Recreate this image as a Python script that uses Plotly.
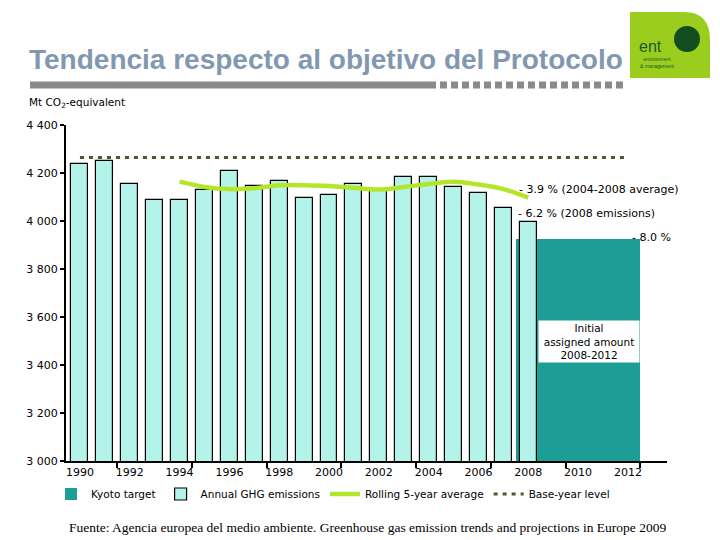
import plotly.graph_objects as go

# ---------------- data ----------------
years = list(range(1990, 2009))
emissions = [4236, 4250, 4153, 4087, 4087, 4129, 4207, 4145, 4165, 4095,
             4107, 4154, 4129, 4182, 4182, 4141, 4116, 4053, 3997]
avg_years = list(range(1994, 2009))
rolling_avg = [4164, 4142, 4133, 4136, 4149, 4149, 4146, 4138, 4131, 4142,
               4154, 4164, 4152, 4133, 4097]
kyoto_years = [2008, 2009, 2010, 2011, 2012]
kyoto_target = [3924, 3924, 3924, 3924, 3924]
base_years = list(range(1990, 2013))
base_level = [4265] * len(base_years)
x_label_years = list(range(1990, 2013, 2))
x_minor_ticks = [1991.5, 1994.5, 1997.5, 2000.5, 2003.5, 2006.5, 2009.5, 2012.5]
y_ticks = list(range(3000, 4401, 200))

# ---------------- layout helpers ----------------
W, H = 720, 540
L, R, T, B = 66, 53, 125, 79
PW, PH = W - L - R, H - T - B


def px(x):
    return (x - L) / PW


def py(y):
    return (H - B - y) / PH


TXT = "DejaVu Sans"

fig = go.Figure()

fig.add_trace(go.Bar(
    x=kyoto_years, y=kyoto_target, width=1.0, name="Kyoto target",
    marker=dict(color="#1c9d96", line=dict(width=0)),
))
fig.add_trace(go.Bar(
    x=years, y=emissions, width=0.68, name="Annual GHG emissions",
    marker=dict(color="#b4f3e9", line=dict(color="black", width=1.2)),
))
fig.add_trace(go.Scatter(
    x=avg_years, y=rolling_avg, mode="lines", name="Rolling 5-year average",
    line=dict(color="#b3e62a", width=4.5, shape="spline"),
))
fig.add_trace(go.Scatter(
    x=base_years, y=base_level, mode="lines", name="Base-year level",
    line=dict(color="#4b5a2c", width=3, dash="4px,5px"),
))

annotations = [
    dict(x=2007.55, y=4133, xref="x", yref="y", text="- 3.9 % (2004-2008 average)",
         showarrow=False, xanchor="left", yanchor="middle",
         font=dict(family=TXT, size=11, color="black")),
    dict(x=2007.5, y=4033, xref="x", yref="y", text="- 6.2 % (2008 emissions)",
         showarrow=False, xanchor="left", yanchor="middle",
         font=dict(family=TXT, size=11, color="black")),
    dict(x=2012.1, y=3933, xref="x", yref="y", text="- 8.0 %",
         showarrow=False, xanchor="left", yanchor="middle",
         font=dict(family=TXT, size=11, color="black")),
    dict(x=2010.45, y=3500, xref="x", yref="y",
         text="Initial<br>assigned amount<br>2008-2012",
         showarrow=False, xanchor="center", yanchor="middle",
         bgcolor="white", borderpad=1, width=98,
         font=dict(family=TXT, size=10.5, color="black")),
    # title
    dict(x=px(27), y=py(59), xref="paper", yref="paper",
         text="<b>Tendencia respecto al objetivo del Protocolo</b>",
         showarrow=False, xanchor="left", yanchor="middle",
         font=dict(family="Liberation Sans", size=28, color="#8198b0")),
    # y-axis unit
    dict(x=px(27), y=py(103), xref="paper", yref="paper",
         text="Mt CO<sub>2</sub>-equivalent",
         showarrow=False, xanchor="left", yanchor="middle",
         font=dict(family=TXT, size=10.5, color="black")),
    # source
    dict(x=px(367), y=py(527), xref="paper", yref="paper",
         text="Fuente: Agencia europea del medio ambiente. Greenhouse gas emission trends and projections in Europe 2009",
         showarrow=False, xanchor="center", yanchor="middle",
         font=dict(family="Liberation Serif", size=13.5, color="black")),
    # logo text
    dict(x=px(637), y=py(47), xref="paper", yref="paper", text="ent",
         showarrow=False, xanchor="left", yanchor="middle",
         font=dict(family="Liberation Sans", size=16, color="#1d5a28")),
    dict(x=px(638), y=py(62), xref="paper", yref="paper",
         text="environment<br>&amp; management",
         showarrow=False, xanchor="left", yanchor="middle",
         font=dict(family="Liberation Sans", size=5, color="#1d5a28")),
]

logo_path = (f"M {px(630)},{py(12)} L {px(684)},{py(12)} "
             f"Q {px(710)},{py(12)} {px(710)},{py(40)} "
             f"L {px(710)},{py(78)} L {px(630)},{py(78)} Z")

shapes = [
    dict(type="line", xref="paper", yref="paper", x0=px(30), x1=px(436),
         y0=py(85), y1=py(85), line=dict(color="#8a8a8a", width=7)),
    dict(type="line", xref="paper", yref="paper", x0=px(440), x1=px(624),
         y0=py(85), y1=py(85), line=dict(color="#8a8a8a", width=7, dash="7px,4px")),
    dict(type="path", xref="paper", yref="paper", path=logo_path,
         fillcolor="#9acd1e", line=dict(width=0), layer="above"),
    dict(type="circle", xref="paper", yref="paper", x0=px(674), x1=px(700),
         y0=py(26), y1=py(52), fillcolor="#124d1f", line=dict(width=0), layer="above"),
]

fig.update_layout(
    width=W, height=H,
    margin=dict(l=L, r=R, t=T, b=B, pad=0),
    paper_bgcolor="white", plot_bgcolor="white",
    barmode="overlay", bargap=0,
    separators=", ",
    showlegend=True,
    legend=dict(orientation="h", x=px(51), y=py(494), xanchor="left", yanchor="middle",
                font=dict(family=TXT, size=10.5, color="black"),
                traceorder="normal", itemwidth=30, bgcolor="rgba(0,0,0,0)"),
    xaxis=dict(range=[1989.44, 2013.57], tickmode="array", tickvals=x_label_years,
               ticks="", showgrid=False, zeroline=False,
               showline=True, linecolor="black", linewidth=2,
               tickfont=dict(family=TXT, size=11, color="black"),
               minor=dict(tickmode="array", tickvals=x_minor_ticks, ticks="outside",
                          ticklen=5, tickwidth=1.5, tickcolor="black", showgrid=False)),
    yaxis=dict(range=[3000, 4400], tickmode="array", tickvals=y_ticks,
               tickformat=",d", ticks="outside", ticklen=4, tickwidth=1.5,
               tickcolor="black", showgrid=False, zeroline=False,
               showline=True, linecolor="black", linewidth=2,
               tickfont=dict(family=TXT, size=11, color="black")),
    annotations=annotations,
    shapes=shapes,
)

fig.write_html("out.html", config={"displayModeBar": False},
               post_script="document.body.style.margin='0';document.body.style.overflow='hidden';")
